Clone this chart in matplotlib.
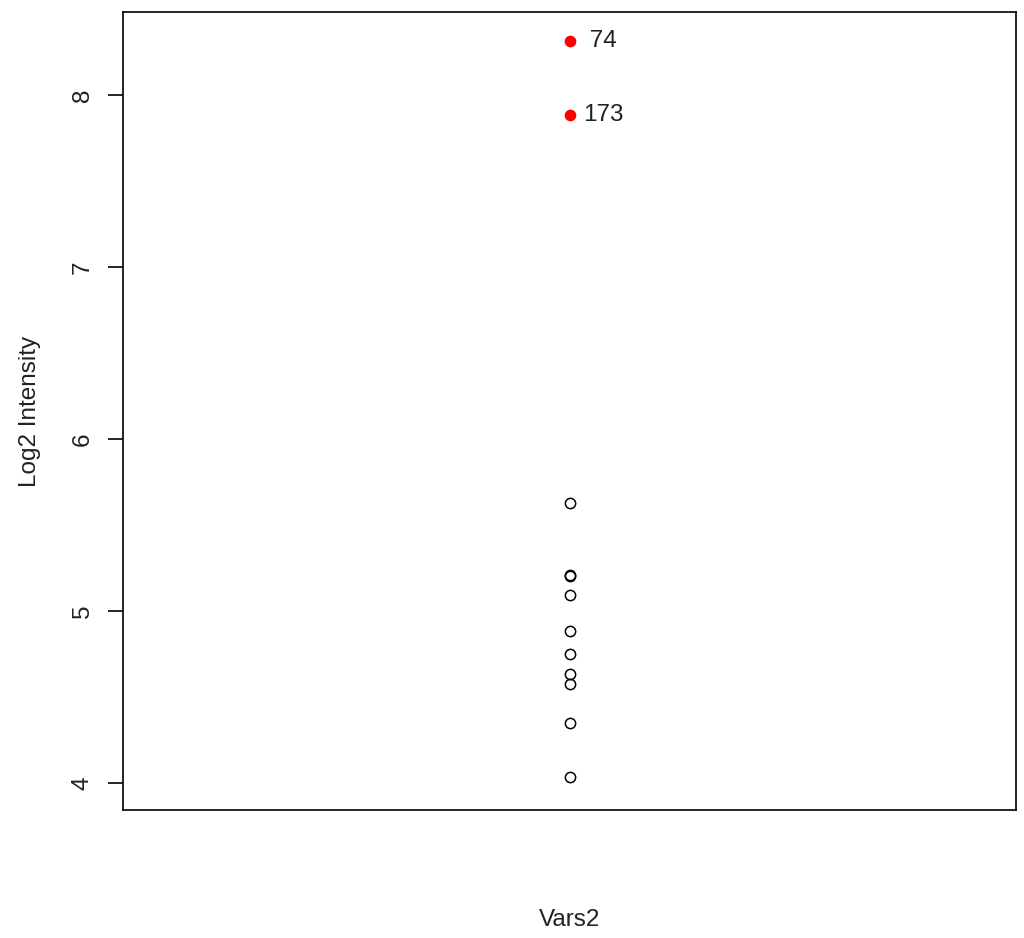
import numpy as np
import matplotlib.pyplot as plt

plt.rcParams['font.family'] = ['Liberation Sans', 'DejaVu Sans']

# valores
intensidad = [5.626, 5.209, 5.203, 5.093, 4.886, 4.748, 4.632, 4.574, 4.347, 4.037]
destacados = [8.314, 7.886]
etiquetas = [' 74', '173']
yticks = [4, 5, 6, 7, 8]

fig = plt.figure(figsize=(10.24, 9.38), dpi=100)
ax = fig.add_axes([123/1024, 1 - 810/938, (1016 - 123)/1024, (810 - 12)/938])

x = np.ones(len(intensidad))
ax.plot(x, intensidad, 'o', mfc='none', mec='black', ms=7.4, mew=1.1)
xd = np.ones(len(destacados))
ax.plot(xd, destacados, 'o', color='red', ms=7.4)
for yy, lab in zip(destacados, etiquetas):
    ax.text(1.012, yy, lab, fontsize=17.5, va='center', ha='left', color='#222222')

ax.set_xlim(0.6, 1.4)
ax.set_ylim(3.843, 8.483)
ax.set_xticks([])
ax.set_yticks(yticks)
ax.set_yticklabels([str(t) for t in yticks], rotation=90, va='center', fontsize=17.5,
                   color='#222222')
ax.tick_params(axis='y', length=11, width=1.2, pad=10)
for s in ax.spines.values():
    s.set_linewidth(1.2)

ax.set_ylabel('Log2 Intensity', fontsize=17.5, labelpad=22, color='#222222')
ax.set_xlabel('Vars2', fontsize=17.5, labelpad=71, color='#222222')

plt.savefig('out.png', dpi=100)
